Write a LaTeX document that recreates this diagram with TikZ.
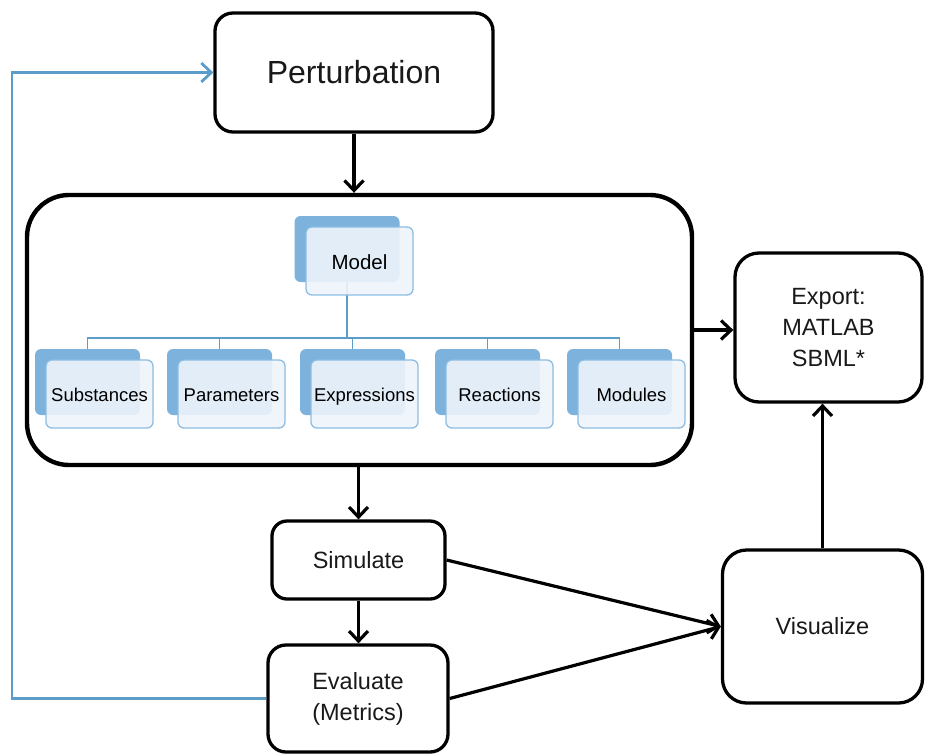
\documentclass[tikz,border=0pt]{standalone}
\usepackage{fontspec}
\setmainfont{Liberation Sans}
\usetikzlibrary{arrows.meta}
\definecolor{loopblue}{HTML}{5B9CC9}
\definecolor{cardblue}{HTML}{7DB2DD}
\definecolor{cardedge}{HTML}{8CBDE2}
\definecolor{cardfill}{HTML}{EEF4FB}

\begin{document}
\begin{tikzpicture}[x=1pt, y=-1pt,
  stepbox/.style={draw, line width=3.3pt, rounded corners=18pt, inner sep=0pt,
    align=center, text=black!90, font=\fontsize{23.5}{31}\selectfont},
  flow/.style={line width=3.2pt, -{Straight Barb[length=10pt,width=19pt]}},
  cardback/.style={fill=cardblue, rounded corners=6pt, minimum width=105pt, minimum height=66pt, inner sep=0pt},
  cardfront/.style={draw=cardedge, line width=1.3pt, fill=cardfill, fill opacity=0.9, text opacity=1,
    rounded corners=6pt, minimum width=107pt, minimum height=68pt, inner sep=0pt,
    text height=17.5pt, text depth=2pt, font=\fontsize{18.5}{22}\selectfont},
  treeline/.style={draw=loopblue, line width=1.1pt}]
\useasboundingbox (0,0) rectangle (925,755);

% main steps
\node[stepbox, minimum width=278pt, minimum height=119pt, font=\fontsize{32}{38}\selectfont] (pert) at (354,72.5) {Perturbation};
\node[stepbox, line width=4.4pt, rounded corners=42pt, minimum width=665pt, minimum height=270pt] (modelbox) at (359.5,330) {};
\node[stepbox, minimum width=187pt, minimum height=149pt, rounded corners=24pt] (export) at (828.5,327.5) {Export:\\MATLAB\\SBML*};
\node[stepbox, minimum width=173pt, minimum height=78pt, rounded corners=15pt] (simul) at (358.5,560) {Simulate};
\node[stepbox, minimum width=180pt, minimum height=107pt] (evalu) at (358,698.5) {Evaluate\\(Metrics)};
\node[stepbox, minimum width=200pt, minimum height=153pt, rounded corners=24pt] (visu) at (822.5,626.5) {Visualize};

% model tree
\node[cardback] (mback) at (347,249) {};
\coordinate (bus) at (347,338);
\draw[treeline] (mback.south) -- (bus);
\foreach \name/\x in {subs/35, para/167, expr/300, reac/435, modu/567}{
	\node[cardback] (\name b) at (\x+52.5,382) {};
	\draw[treeline] (\name b.north) |- (bus);
}
\node[cardfront, font=\fontsize{20.5}{24}\selectfont, text height=18pt, text depth=1pt] (mfront) at (359.5,261) {Model};
\foreach \name/\lbl/\x in {subs/Substances/35, para/Parameters/167, expr/Expressions/300, reac/Reactions/435, modu/Modules/567}{
	\node[cardfront] (\name) at (\x+64.5,394) {\lbl};
}

% arrows
\draw[flow] (pert) -- (pert |- modelbox.north);
\draw[flow] (modelbox.east) -- (modelbox.east -| export.west);
\draw[flow] (simul |- modelbox.south) -- (simul.north);
\draw[flow] (simul.south) -- (simul.south |- evalu.north);
\draw[flow] (simul.east) -- (visu.west);
\draw[flow] (evalu.east) -- (visu.west);
\draw[flow] (visu.north) -- (visu.north |- export.south);

% back loop
\coordinate (loop) at (12,72.5);
\draw[flow, draw=loopblue, line width=2.8pt] (evalu.west) -| (loop) -- (pert.west);

\end{tikzpicture}
\end{document}
